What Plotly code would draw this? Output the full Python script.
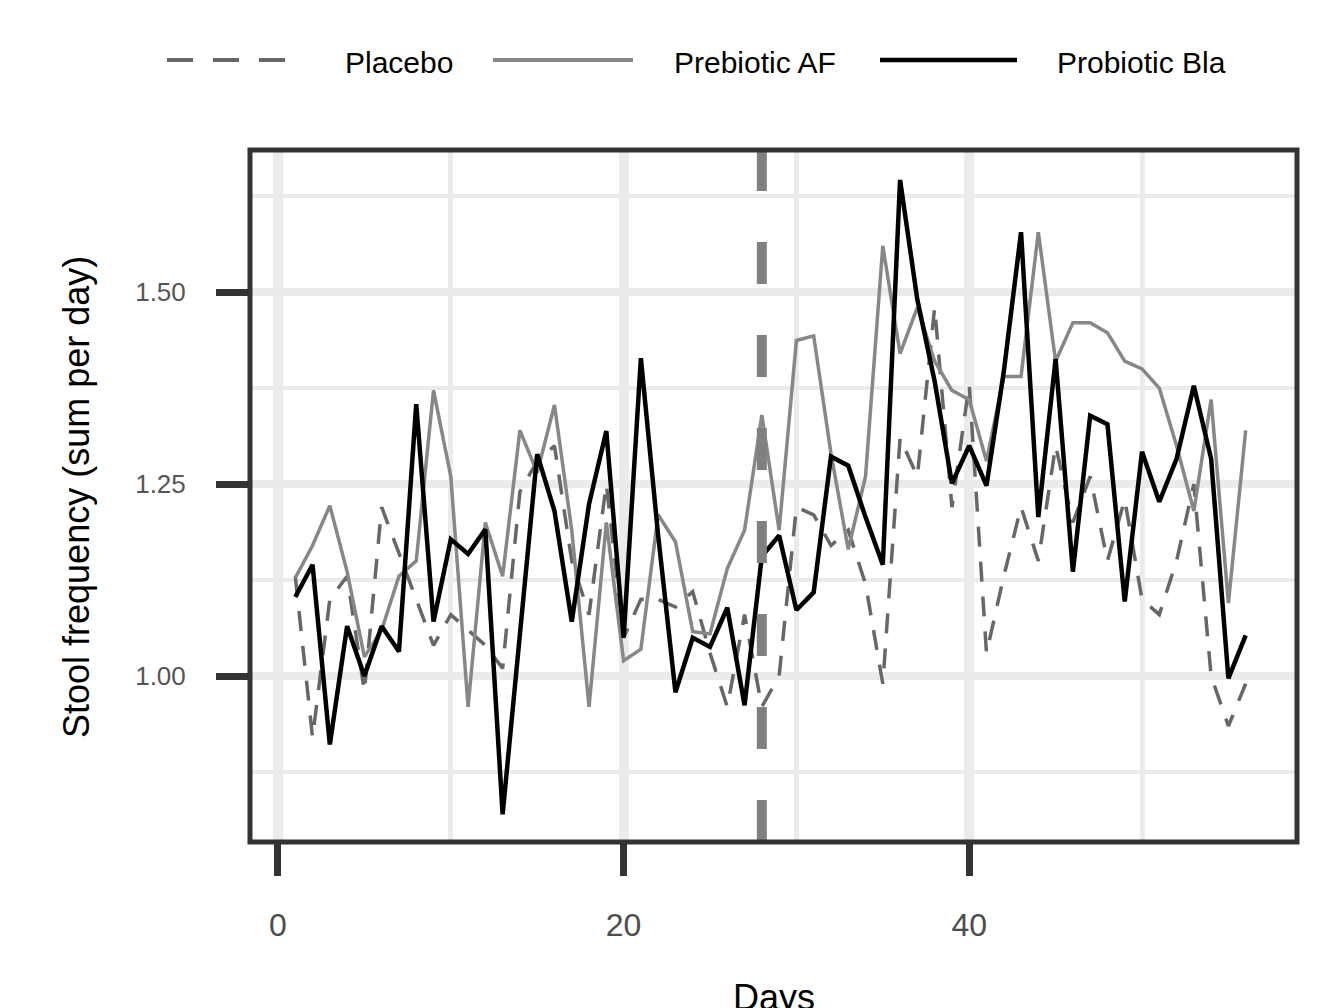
import plotly.graph_objects as go

# ---------------- data ----------------
days = [1, 2, 3, 4, 5, 6, 7, 8, 9, 10, 11, 12, 13, 14, 15, 16, 17, 18, 19, 20,
        21, 22, 23, 24, 25, 26, 27, 28, 29, 30, 31, 32, 33, 34, 35, 36, 37, 38, 39, 40,
        41, 42, 43, 44, 45, 46, 47, 48, 49, 50, 51, 52, 53, 54, 55, 56]

placebo = [1.13, 0.92, 1.10, 1.13, 0.98, 1.22, 1.16, 1.10, 1.04, 1.08,
           1.06, 1.04, 1.01, 1.24, 1.28, 1.30, 1.15, 1.08, 1.25, 1.05,
           1.10, 1.10, 1.09, 1.11, 1.03, 0.96, 1.08, 0.96, 1.00, 1.22,
           1.21, 1.17, 1.19, 1.12, 0.99, 1.31, 1.26, 1.48, 1.22, 1.38,
           1.03, 1.13, 1.22, 1.15, 1.30, 1.20, 1.26, 1.15, 1.23, 1.10,
           1.08, 1.15, 1.25, 1.00, 0.935, 0.99]

prebiotic_af = [1.128, 1.17, 1.222, 1.136, 1.025, 1.06, 1.13, 1.15, 1.372, 1.26,
                0.96, 1.20, 1.13, 1.32, 1.265, 1.353, 1.19, 0.96, 1.20, 1.02,
                1.035, 1.21, 1.175, 1.058, 1.055, 1.14, 1.19, 1.34, 1.19, 1.437,
                1.443, 1.29, 1.165, 1.26, 1.56, 1.42, 1.48, 1.41, 1.372, 1.36,
                1.28, 1.39, 1.39, 1.578, 1.41, 1.46, 1.46, 1.447, 1.41, 1.40,
                1.375, 1.30, 1.215, 1.36, 1.095, 1.32]

probiotic_bla = [1.103, 1.145, 0.911, 1.065, 1.00, 1.065, 1.032, 1.354, 1.071, 1.178,
                 1.159, 1.191, 0.82, 1.05, 1.289, 1.215, 1.071, 1.224, 1.319, 1.05,
                 1.414, 1.183, 0.979, 1.05, 1.038, 1.089, 0.962, 1.156, 1.183, 1.086,
                 1.109, 1.286, 1.274, 1.207, 1.145, 1.646, 1.49, 1.384, 1.251, 1.30,
                 1.248, 1.396, 1.578, 1.207, 1.413, 1.136, 1.339, 1.328, 1.097, 1.292,
                 1.227, 1.283, 1.378, 1.283, 0.997, 1.053]

series_names = ["Placebo", "Prebiotic AF", "Probiotic Bla"]
x_tick_vals = [0, 20, 40]
y_tick_vals = [1.00, 1.25, 1.50]
y_tick_text = ["1.00", "1.25", "1.50"]
intervention_day = 28

# ---------------- styling ----------------
W, H = 1325, 1008
ML, MR, MT, MB = 250, 28, 150, 166
PW, PH = W - ML - MR, H - MT - MB
FONT = "Liberation Sans, Arial, sans-serif"

def px2paper_x(px):
    return (px - ML) / PW

def px2paper_y(py):
    return (H - MB - py) / PH

col_placebo = "#676767"
col_af = "#878787"
col_bla = "#000000"
placebo_dash = "20px,15px"

fig = go.Figure()
fig.add_trace(go.Scatter(x=days, y=placebo, mode="lines", name=series_names[0],
                         line=dict(color=col_placebo, width=3.5, dash=placebo_dash),
                         showlegend=False))
fig.add_trace(go.Scatter(x=days, y=prebiotic_af, mode="lines", name=series_names[1],
                         line=dict(color=col_af, width=3.5), showlegend=False))
fig.add_trace(go.Scatter(x=days, y=probiotic_bla, mode="lines", name=series_names[2],
                         line=dict(color=col_bla, width=4.5), showlegend=False))

# vertical intervention line
fig.add_shape(type="line", xref="x", yref="paper", x0=intervention_day, x1=intervention_day,
              y0=0, y1=1, line=dict(color="#808080", width=10, dash="42px,51px"), layer="above")

# panel border
fig.add_shape(type="rect", xref="paper", yref="paper", x0=0, x1=1, y0=0, y1=1,
              line=dict(color="#333333", width=5), layer="above")

# custom legend
legend_items = [
    (series_names[0], col_placebo, "26px,20px", 4, 167, 285, 343),
    (series_names[1], col_af, "solid", 4, 493, 633, 672),
    (series_names[2], col_bla, "solid", 4.5, 880, 1017, 1055),
]
ly = px2paper_y(60)
for name, col, dash, w, x0, x1, tx in legend_items:
    fig.add_shape(type="line", xref="paper", yref="paper",
                  x0=px2paper_x(x0), x1=px2paper_x(x1), y0=ly, y1=ly,
                  line=dict(color=col, width=w, dash=dash))
    fig.add_annotation(xref="paper", yref="paper", x=px2paper_x(tx), y=px2paper_y(63),
                       text=name, showarrow=False, xanchor="left", yanchor="middle",
                       font=dict(family=FONT, size=30, color="#000000"))

# axis titles
fig.add_annotation(xref="paper", yref="paper", x=px2paper_x(77), y=px2paper_y(497),
                   text="Stool frequency (sum per day)", textangle=-90, showarrow=False,
                   xanchor="center", yanchor="middle",
                   font=dict(family=FONT, size=36, color="#000000"))
fig.add_annotation(xref="paper", yref="paper", x=0.5, y=px2paper_y(975),
                   text="Days", showarrow=False, xanchor="center", yanchor="top",
                   font=dict(family=FONT, size=36, color="#000000"))

fig.update_layout(
    width=W, height=H,
    margin=dict(l=ML, r=MR, t=MT, b=MB, pad=0),
    paper_bgcolor="white", plot_bgcolor="white",
    showlegend=False,
    font=dict(family=FONT),
    xaxis=dict(range=[-1.62, 58.97], tickmode="array", tickvals=x_tick_vals,
               ticktext=[str(v) for v in x_tick_vals],
               showgrid=True, gridcolor="#ebebeb", gridwidth=10,
               minor=dict(dtick=10, tick0=0, showgrid=True, gridcolor="#ebebeb", gridwidth=5, ticks=""),
               ticks="outside", ticklen=33, tickwidth=7, tickcolor="#333333",
               ticklabelstandoff=22,
               tickfont=dict(family=FONT, size=32, color="#4d4d4d"),
               zeroline=False, showline=False),
    yaxis=dict(range=[0.784, 1.685], tickmode="array", tickvals=y_tick_vals,
               ticktext=y_tick_text,
               showgrid=True, gridcolor="#ebebeb", gridwidth=8,
               minor=dict(dtick=0.125, tick0=0, showgrid=True, gridcolor="#ebebeb", gridwidth=4, ticks=""),
               ticks="outside", ticklen=33, tickwidth=7, tickcolor="#333333",
               ticklabelstandoff=25,
               tickfont=dict(family=FONT, size=26, color="#555555"),
               zeroline=False, showline=False),
)

fig.write_html("out.html",
               config={"displayModeBar": False},
               post_script="document.body.style.margin='0px';document.body.style.overflow='hidden';")
